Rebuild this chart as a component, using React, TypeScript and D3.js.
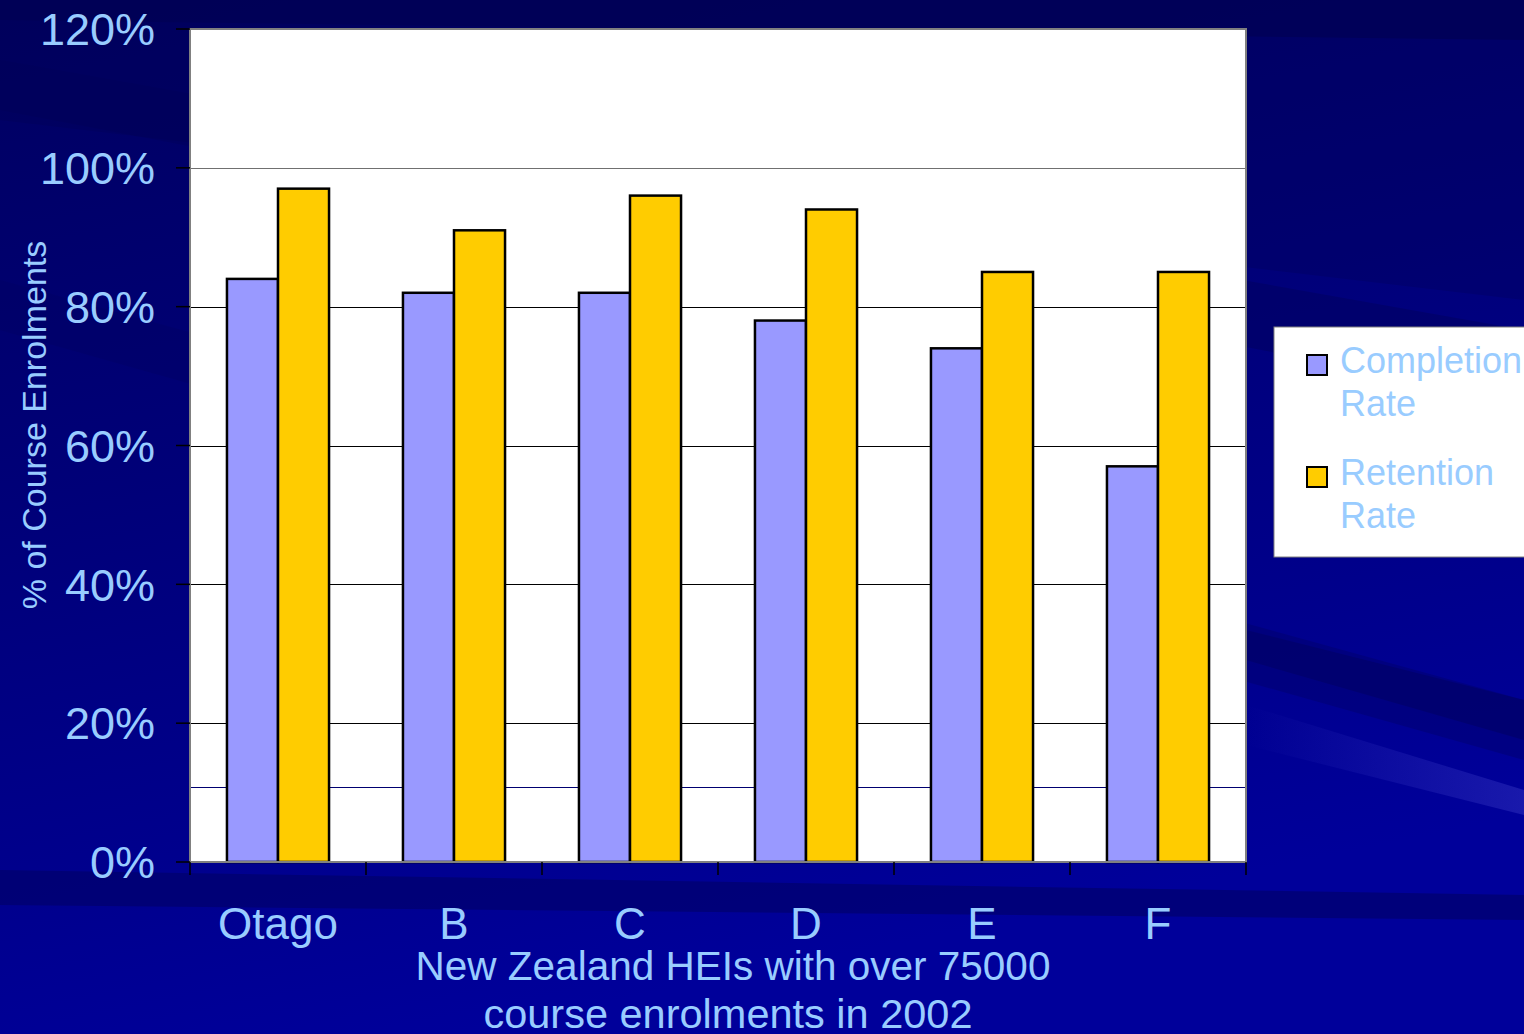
import React from "react";
import * as d3 from "d3";

// Institutions and their 2002 rates (fraction of course enrolments)
const categories = ["Otago", "B", "C", "D", "E", "F"];
const seriesNames = ["Completion Rate", "Retention Rate"];
const completion = [0.84, 0.82, 0.82, 0.78, 0.74, 0.57];
const retention = [0.97, 0.91, 0.96, 0.94, 0.85, 0.85];
const yTicks = [0, 0.2, 0.4, 0.6, 0.8, 1.0, 1.2];
const seriesColors = ["#9999FF", "#FFCC00"];

const W = 1524;
const H = 1034;
const plot = { left: 190, right: 1246, top: 29, bottom: 862 };
const textColor = "#99CCFF";
const font = "'Liberation Sans', Arial, sans-serif";

export default function App() {
  const x = d3
    .scaleBand<string>()
    .domain(categories)
    .range([plot.left, plot.right])
    .paddingInner(0.42)
    .paddingOuter(0.21);
  const xStep = d3.scaleBand<string>().domain(categories).range([plot.left, plot.right]);
  const inner = d3.scaleBand<string>().domain(seriesNames).range([0, x.bandwidth()]);
  const y = d3.scaleLinear().domain([0, 1.2]).range([plot.bottom, plot.top]);
  const fmt = d3.format(".0%");

  const series = [completion, retention];

  const boundaries = categories.map((c) => xStep(c) as number).concat([plot.right]);

  return (
    <svg
      width={W}
      height={H}
      style={{ position: "absolute", left: 0, top: 0, display: "block" }}
      fontFamily={font}
    >
      <defs>
        <linearGradient id="bg" x1="0" y1="0" x2="0.3" y2="1">
          <stop offset="0" stopColor="#000060" />
          <stop offset="0.45" stopColor="#000078" />
          <stop offset="1" stopColor="#00009A" />
        </linearGradient>
        <linearGradient id="streak" x1="0" y1="0" x2="1" y2="0">
          <stop offset="0" stopColor="#2a2ab8" stopOpacity="0" />
          <stop offset="1" stopColor="#2a2ab8" stopOpacity="0.6" />
        </linearGradient>
      </defs>

      {/* slide background */}
      <rect x={0} y={0} width={W} height={H} fill="url(#bg)" />
      <polygon points="0,0 1524,0 1524,40 0,20" fill="#000058" opacity={0.8} />
      <polygon points="0,60 1524,330 1524,400 0,110" fill="#00005a" opacity={0.45} />
      <polygon points="0,280 1524,700 1524,760 0,330" fill="#000060" opacity={0.35} />
      <polygon points="1246,630 1524,700 1524,740 1246,660" fill="#000066" opacity={0.6} />
      <polygon points="1246,705 1524,790 1524,815 1246,745" fill="url(#streak)" />
      <polygon points="0,870 1524,895 1524,920 0,905" fill="#000066" opacity={0.6} />
      <polygon points="0,0 1524,0 1524,300 0,120" fill="#000050" opacity={0.25} />

      {/* plot area */}
      <rect
        x={plot.left}
        y={plot.top}
        width={plot.right - plot.left}
        height={plot.bottom - plot.top}
        fill="#ffffff"
      />

      {/* gridlines */}
      {yTicks.slice(1, -1).map((t) => (
        <line
          key={t}
          x1={plot.left}
          x2={plot.right}
          y1={Math.round(y(t)) + 0.5}
          y2={Math.round(y(t)) + 0.5}
          stroke={t === 1 ? "#707070" : "#000000"}
          strokeWidth={1}
        />
      ))}
      <line x1={plot.left} x2={plot.right} y1={787.5} y2={787.5} stroke="#000070" strokeWidth={1} />

      {/* bars */}
      {categories.map((c, i) => (
        <g key={c} transform={`translate(${x(c)},0)`}>
          {seriesNames.map((s, j) => {
            const v = series[j][i];
            return (
              <rect
                key={s}
                x={inner(s)}
                y={y(v)}
                width={inner.bandwidth()}
                height={y(0) - y(v)}
                fill={seriesColors[j]}
                stroke="#000000"
                strokeWidth={2.5}
              />
            );
          })}
        </g>
      ))}

      {/* plot border */}
      <rect
        x={plot.left}
        y={plot.top}
        width={plot.right - plot.left}
        height={plot.bottom - plot.top}
        fill="none"
        stroke="#808080"
        strokeWidth={2}
      />

      {/* y axis ticks and labels */}
      {yTicks.map((t) => (
        <g key={t}>
          <line x1={176} x2={plot.left} y1={y(t)} y2={y(t)} stroke="#000000" strokeWidth={1.5} />
          <text
            x={155}
            y={y(t)}
            dy="0.36em"
            textAnchor="end"
            fontSize={45}
            fill={textColor}
          >
            {fmt(t)}
          </text>
        </g>
      ))}

      {/* x axis ticks and labels */}
      {boundaries.map((b, i) => (
        <line key={i} x1={b} x2={b} y1={plot.bottom} y2={plot.bottom + 13} stroke="#000000" strokeWidth={1.5} />
      ))}
      {categories.map((c) => (
        <text
          key={c}
          x={(x(c) as number) + x.bandwidth() / 2}
          y={939}
          textAnchor="middle"
          fontSize={44}
          fill={textColor}
        >
          {c}
        </text>
      ))}

      {/* axis titles */}
      <text x={733} y={980} textAnchor="middle" fontSize={40.5} fill={textColor}>
        New Zealand HEIs with over 75000
      </text>
      <text x={728} y={1028} textAnchor="middle" fontSize={41.5} fill={textColor}>
        course enrolments in 2002
      </text>
      <text
        transform="translate(46,425) rotate(-90)"
        textAnchor="middle"
        fontSize={34}
        fill={textColor}
      >
        % of Course Enrolments
      </text>

      {/* legend */}
      <rect x={1274} y={327} width={260} height={230} fill="#ffffff" stroke="#808080" strokeWidth={1} />
      {seriesNames.map((s, j) => {
        const [first, second] = s.split(" ");
        const cy = 365 + j * 112;
        return (
          <g key={s}>
            <rect x={1307} y={cy - 10} width={20} height={20} fill={seriesColors[j]} stroke="#000000" strokeWidth={2} />
            <text x={1340} y={cy + 8} fontSize={36} fill={textColor}>
              {first}
            </text>
            <text x={1340} y={cy + 51} fontSize={36} fill={textColor}>
              {second}
            </text>
          </g>
        );
      })}
    </svg>
  );
}
